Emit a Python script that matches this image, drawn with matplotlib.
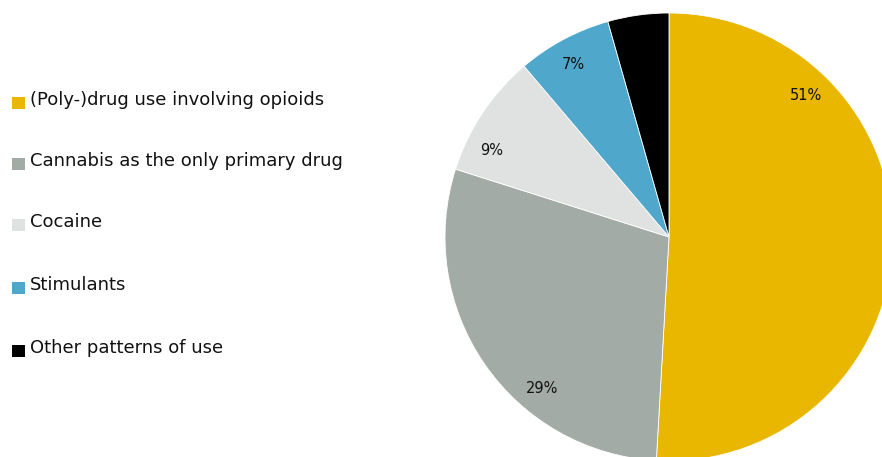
import numpy as np
import matplotlib.pyplot as plt
from matplotlib.patches import Rectangle

plt.rcParams['font.family'] = ['DejaVu Sans']

categories = ["(Poly-)drug use involving opioids", "Cannabis as the only primary drug",
              "Cocaine", "Stimulants", "Other patterns of use"]
shares = [50.9, 29.0, 8.9, 6.8, 4.4]
pct_labels = ["51%", "29%", "9%", "7%", ""]
colors = ["#E9B600", "#A3ABA7", "#E0E2E1", "#4FA8CB", "#000000"]

# where each percentage sits (degrees clockwise from the top, fraction of radius)
label_angles = [44, 220, 296, 331]
label_radius = 0.88

W, H = 882, 457
fig = plt.figure(figsize=(W / 100, H / 100), dpi=100)

# pie centre and radius in pixels; the pie runs past the right and bottom edges
cx, cy, r = 669, 237, 224
ax = fig.add_axes([(cx - r) / W, (H - cy - r) / H, 2 * r / W, 2 * r / H])
ax.pie(shares, colors=colors, startangle=90, counterclock=False, radius=1,
       wedgeprops=dict(edgecolor="white", linewidth=0.6))
ax.set_xlim(-1, 1)
ax.set_ylim(-1, 1)
ax.set_aspect("equal")
ax.axis("off")

for txt, a in zip(pct_labels, label_angles):
    t = np.deg2rad(90 - a)
    ax.text(label_radius * np.cos(t), label_radius * np.sin(t), txt,
            ha="center", va="center", fontsize=10.5, color="#111111")

# legend drawn by hand
rows_y = [100, 161, 222, 285, 348]
for name, col, y in zip(categories, colors, rows_y):
    fig.add_artist(Rectangle((12 / W, (H - y - 3 - 6) / H), 12.5 / W, 12 / H,
                             transform=fig.transFigure, facecolor=col, edgecolor="none"))
    fig.text(30 / W, (H - y) / H, name, ha="left", va="center", fontsize=13, color="#111111")

plt.savefig("out.png", dpi=100)
